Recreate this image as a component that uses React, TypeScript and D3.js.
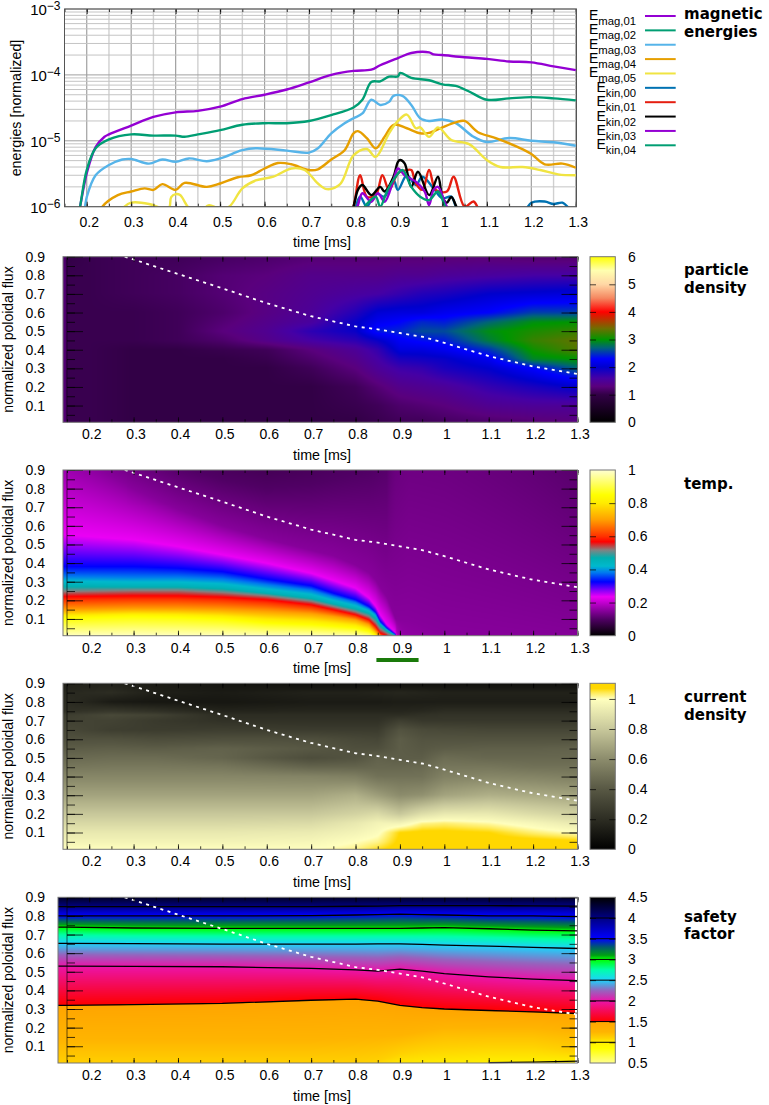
import * as d3 from 'd3';
import * as React from 'react';

const WIDTH = 769;
const HEIGHT = 1105;
const FONT = '"Liberation Sans", Arial, sans-serif';
const BOLD = '"DejaVu Sans", sans-serif';

// ---- energies panel
const mag1T = [0.18, 0.185, 0.2, 0.22, 0.24, 0.25, 0.3, 0.35, 0.4, 0.45, 0.5, 0.55, 0.6, 0.65, 0.7, 0.75, 0.8, 0.84, 0.86, 0.9, 0.93, 0.97, 0.98, 1.0, 1.05, 1.1, 1.15, 1.2, 1.25, 1.3];
const mag1V = [7e-7, 1e-6, 3.2e-6, 8e-6, 1.15e-5, 1.25e-5, 1.7e-5, 2.3e-5, 2.7e-5, 2.85e-5, 3.3e-5, 4.3e-5, 5e-5, 6e-5, 7.7e-5, 1e-4, 1.15e-4, 1.2e-4, 1.4e-4, 1.8e-4, 2.15e-4, 2.2e-4, 2.05e-4, 2e-4, 1.85e-4, 1.75e-4, 1.6e-4, 1.55e-4, 1.35e-4, 1.18e-4];
const mag2T = [0.18, 0.185, 0.2, 0.22, 0.25, 0.3, 0.35, 0.4, 0.42, 0.45, 0.5, 0.55, 0.6, 0.65, 0.7, 0.75, 0.8, 0.82, 0.84, 0.86, 0.88, 0.9, 0.905, 0.93, 0.97, 1.0, 1.03, 1.06, 1.1, 1.15, 1.2, 1.25, 1.3];
const mag2V = [7e-7, 1e-6, 3.6e-6, 7.7e-6, 1.05e-5, 1.25e-5, 1.2e-5, 1.2e-5, 1.15e-5, 1.25e-5, 1.45e-5, 1.75e-5, 1.85e-5, 1.85e-5, 2e-5, 2.45e-5, 3.2e-5, 4.2e-5, 7.8e-5, 8e-5, 9.4e-5, 9.5e-5, 1.07e-4, 9e-5, 8.3e-5, 7.2e-5, 6.8e-5, 5.6e-5, 4.2e-5, 4.4e-5, 4.6e-5, 4.4e-5, 4.1e-5];
const mag3T = [0.19, 0.196, 0.2, 0.22, 0.25, 0.28, 0.3, 0.34, 0.37, 0.4, 0.43, 0.47, 0.5, 0.55, 0.58, 0.65, 0.7, 0.72, 0.75, 0.78, 0.8, 0.82, 0.84, 0.86, 0.88, 0.89, 0.91, 0.93, 0.95, 0.97, 1.0, 1.03, 1.07, 1.1, 1.15, 1.2, 1.25, 1.3];
const mag3V = [7e-7, 1e-6, 1.4e-6, 3e-6, 4.3e-6, 5.2e-6, 5.3e-6, 4.5e-6, 5.2e-6, 4.8e-6, 5.4e-6, 4.9e-6, 5.4e-6, 7.2e-6, 7.7e-6, 7.1e-6, 6.6e-6, 7.7e-6, 1.3e-5, 1.85e-5, 2.2e-5, 2.6e-5, 4.2e-5, 3.5e-5, 3.9e-5, 4.8e-5, 4.8e-5, 3.5e-5, 2.2e-5, 2e-5, 2.1e-5, 1.85e-5, 1.15e-5, 9.6e-6, 1.1e-5, 1e-5, 9.5e-6, 8.4e-6];
const mag4T = [0.225, 0.235, 0.27, 0.3, 0.33, 0.35, 0.37, 0.4, 0.42, 0.47, 0.5, 0.54, 0.57, 0.6, 0.63, 0.66, 0.7, 0.72, 0.75, 0.78, 0.8, 0.81, 0.83, 0.85, 0.87, 0.89, 0.92, 0.95, 0.97, 1.0, 1.03, 1.05, 1.08, 1.12, 1.17, 1.2, 1.23, 1.27, 1.3];
const mag4V = [7e-7, 1e-6, 1.5e-6, 1.7e-6, 1.9e-6, 1.8e-6, 2.2e-6, 1.8e-6, 2.3e-6, 2e-6, 2.25e-6, 2.8e-6, 3e-6, 3.8e-6, 4.6e-6, 4.4e-6, 3.6e-6, 3.7e-6, 5.2e-6, 7.2e-6, 1.3e-5, 1.4e-5, 1.1e-5, 7.7e-6, 1.15e-5, 1.75e-5, 1.55e-5, 1.3e-5, 1.32e-5, 1.6e-5, 1.9e-5, 2e-5, 1.35e-5, 1.1e-5, 8e-6, 6.3e-6, 4.4e-6, 4.5e-6, 3.9e-6];
const mag5T = [0.275, 0.285, 0.3, 0.34, 0.37, 0.385, 0.39, 0.4, 0.41, 0.43, 0.45, 0.475, 0.495, 0.52, 0.55, 0.58, 0.62, 0.66, 0.69, 0.72, 0.74, 0.77, 0.8, 0.83, 0.85, 0.88, 0.9, 0.92, 0.94, 0.95, 0.97, 0.99, 1.02, 1.06, 1.1, 1.13, 1.18, 1.22, 1.26, 1.3];
const mag5V = [8e-7, 1e-6, 1.15e-6, 1.1e-6, 9.5e-7, 9.5e-7, 1.4e-6, 1.55e-6, 1.5e-6, 9.5e-7, 8e-7, 1.05e-6, 9.5e-7, 1e-6, 1.9e-6, 2.5e-6, 2.85e-6, 3.8e-6, 3.6e-6, 2.25e-6, 1.85e-6, 2.2e-6, 6e-6, 7.5e-6, 5.7e-6, 1.3e-5, 2e-5, 2.5e-5, 1.55e-5, 1.6e-5, 1.15e-5, 1.6e-5, 1.03e-5, 8.9e-6, 5.1e-6, 4e-6, 4e-6, 3.6e-6, 3.1e-6, 3e-6];
const kin0T = [0.8, 0.815, 0.83, 0.85, 0.87, 0.89, 0.9, 0.92, 0.94, 0.955, 0.98, 1.0, 1.02, 1.035, 1.1, 1.18, 1.19, 1.2, 1.23, 1.25, 1.27, 1.285, 1.3];
const kin0V = [7e-7, 1.42e-6, 1e-6, 1.6e-6, 1.42e-6, 2.55e-6, 1.8e-6, 3e-6, 2.13e-6, 2.85e-6, 1.9e-6, 1.34e-6, 1.42e-6, 9e-7, 6e-7, 8e-7, 9.5e-7, 1.15e-6, 1.2e-6, 1.1e-6, 1.15e-6, 9.5e-7, 8e-7];
const kin1T = [0.79, 0.8, 0.815, 0.83, 0.85, 0.865, 0.88, 0.9, 0.92, 0.93, 0.94, 0.955, 0.97, 0.985, 1.01, 1.025, 1.05, 1.07, 1.08, 1.09];
const kin1V = [7e-7, 1e-6, 3e-6, 1.42e-6, 1.5e-6, 3e-6, 1.8e-6, 3.2e-6, 3.6e-6, 3.6e-6, 2.26e-6, 1.8e-6, 3.6e-6, 1.8e-6, 1.7e-6, 2.85e-6, 1e-6, 1.2e-6, 9.5e-7, 7e-7];
const kin2T = [0.79, 0.8, 0.81, 0.82, 0.84, 0.86, 0.87, 0.89, 0.9, 0.905, 0.915, 0.93, 0.945, 0.97, 0.99, 1.0, 1.01, 1.02, 1.035, 1.05];
const kin2V = [7e-7, 1e-6, 1.8e-6, 2.13e-6, 1.5e-6, 2e-6, 1.7e-6, 2.85e-6, 4.8e-6, 5.1e-6, 4.55e-6, 2e-6, 3.4e-6, 1.5e-6, 2.85e-6, 1.4e-6, 1.15e-6, 1.4e-6, 9e-7, 7e-7];
const kin3T = [0.8, 0.81, 0.82, 0.84, 0.855, 0.87, 0.89, 0.9, 0.915, 0.94, 0.96, 0.97, 0.98, 0.99, 1.01, 1.03];
const kin3V = [7e-7, 1.06e-6, 1.6e-6, 1.19e-6, 1.6e-6, 1.19e-6, 2.55e-6, 3.8e-6, 3e-6, 2.4e-6, 1.7e-6, 1.06e-6, 1.8e-6, 2e-6, 1e-6, 7e-7];
const kin4T = [0.81, 0.82, 0.835, 0.85, 0.86, 0.875, 0.89, 0.91, 0.93, 0.95, 0.97, 0.99, 1.01, 1.03];
const kin4V = [7e-7, 9e-7, 1.19e-6, 1.42e-6, 1e-6, 1.7e-6, 2.55e-6, 3.6e-6, 2e-6, 1.42e-6, 1.26e-6, 1.7e-6, 9e-7, 7e-7];

const energyTimes = [mag1T, mag2T, mag3T, mag4T, mag5T, kin0T, kin1T, kin2T, kin3T, kin4T];
const energyValues = [mag1V, mag2V, mag3V, mag4V, mag5V, kin0V, kin1V, kin2V, kin3V, kin4V];
const energySubs = ['mag,01', 'mag,02', 'mag,03', 'mag,04', 'mag,05', 'kin,00', 'kin,01', 'kin,02', 'kin,03', 'kin,04'];
const energyColors = ['#9400d3', '#009e73', '#56b4e9', '#e69f00', '#f0e442', '#0072b2', '#e51e10', '#000000', '#9400d3', '#009e73'];

// ---- the dashed curve that repeats on all four maps
const dashTimes = [0.28, 0.3, 0.4, 0.5, 0.6, 0.7, 0.8, 0.85, 0.9, 0.95, 1.0, 1.1, 1.2, 1.3];
const dashFlux = [0.9, 0.885, 0.807, 0.73, 0.65, 0.58, 0.525, 0.51, 0.49, 0.47, 0.437, 0.366, 0.31, 0.27];

// ---- particle density, grid values
const densityTimes = [0.145, 0.153, 0.2, 0.3, 0.4, 0.5, 0.6, 0.7, 0.8, 0.85, 0.9, 0.95, 1, 1.1, 1.2, 1.3];
const densityFlux = [0.01, 0.1, 0.2, 0.3, 0.35, 0.4, 0.45, 0.5, 0.55, 0.6, 0.7, 0.8, 0.9];
const densityValues = [
  [1.25, 1.05, 1.05, 1.0, 1.0, 1.0, 1.0, 1.0, 1.0, 1.05, 1.1, 1.1, 1.15, 1.2, 1.25, 1.3],
  [1.25, 1.05, 1.05, 1.0, 1.0, 1.0, 1.0, 1.0, 1.05, 1.1, 1.2, 1.25, 1.3, 1.45, 1.5, 1.5],
  [1.25, 1.05, 1.05, 1.0, 1.0, 1.0, 1.0, 1.0, 1.1, 1.25, 1.4, 1.45, 1.5, 1.7, 1.85, 2.0],
  [1.25, 1.05, 1.05, 1.0, 1.0, 1.0, 1.0, 1.1, 1.3, 1.5, 1.65, 1.7, 1.85, 2.0, 2.3, 2.7],
  [1.25, 1.05, 1.05, 1.0, 1.0, 1.0, 1.05, 1.2, 1.4, 1.6, 1.85, 1.9, 1.95, 2.2, 2.9, 3.0],
  [1.25, 1.05, 1.05, 1.0, 1.0, 1.05, 1.1, 1.3, 1.5, 1.7, 2.1, 2.1, 2.2, 2.5, 3.05, 3.3],
  [1.25, 1.05, 1.05, 1.05, 1.1, 1.2, 1.4, 1.6, 1.75, 1.95, 2.25, 2.35, 2.4, 2.85, 3.2, 3.35],
  [1.25, 1.05, 1.05, 1.05, 1.1, 1.3, 1.45, 1.75, 1.95, 2.4, 2.45, 2.6, 2.6, 2.95, 3.1, 3.2],
  [1.25, 1.05, 1.05, 1.05, 1.1, 1.25, 1.4, 1.55, 1.95, 2.2, 2.3, 2.45, 2.4, 2.7, 2.95, 3.0],
  [1.25, 1.05, 1.05, 1.05, 1.1, 1.2, 1.35, 1.5, 1.8, 2.05, 2.1, 2.1, 2.2, 2.3, 2.55, 2.55],
  [1.25, 1.05, 1.05, 1.1, 1.15, 1.25, 1.35, 1.45, 1.55, 1.6, 1.7, 1.8, 1.85, 2.0, 2.05, 2.1],
  [1.25, 1.05, 1.05, 1.1, 1.15, 1.25, 1.3, 1.4, 1.4, 1.4, 1.45, 1.45, 1.5, 1.55, 1.6, 1.6],
  [1.2, 1.0, 1.05, 1.1, 1.1, 1.15, 1.2, 1.25, 1.25, 1.25, 1.25, 1.25, 1.25, 1.25, 1.2, 1.2],
];
const densityStops = [0, 1, 1.3, 1.6, 2, 2.3, 2.7, 3, 3.4, 4, 4.5, 5, 5.5, 6];
const densityColors = ['#000000', '#320046', '#5a007d', '#4600a5', '#0000cd', '#0000ff', '#006478', '#009600', '#6e6e00', '#ff0000', '#f58760', '#ffd7a5', '#ffffaf', '#ffff00'];
const densityTicks = [0, 1, 2, 3, 4, 5, 6];

// ---- temperature, flux position of each level per time
const tempTimes = [0.15, 0.3, 0.4, 0.5, 0.6, 0.7, 0.75, 0.8, 0.83, 0.845, 0.855, 0.87, 0.89, 0.92, 1.0, 1.3];
const tempLevels = [1, 0.85, 0.7, 0.567, 0.517, 0.45, 0.38, 0.325, 0.235, 0.15, 0.1, 0.08];
const tempContours = [
  [0, 0, 0, 0, 0, 0, 0, 0, -0.005, -0.02, -0.1, -0.15, -0.25, -2, -2, -2],
  [0.105, 0.114, 0.11, 0.1, 0.079, 0.07, 0.061, 0.052, 0.034, 0.012, -0.05, -0.1, -0.2, -1.9, -1.9, -1.9],
  [0.15, 0.155, 0.154, 0.15, 0.141, 0.129, 0.114, 0.096, 0.07, 0.034, 0.012, -0.05, -0.15, -1.8, -1.8, -1.8],
  [0.221, 0.225, 0.225, 0.218, 0.204, 0.177, 0.15, 0.123, 0.096, 0.061, 0.025, 0.012, -0.1, -1.7, -1.7, -1.7],
  [0.248, 0.254, 0.254, 0.243, 0.225, 0.196, 0.168, 0.139, 0.114, 0.082, 0.048, 0.025, 0.005, -1.6, -1.6, -1.6],
  [0.284, 0.279, 0.279, 0.27, 0.243, 0.216, 0.186, 0.159, 0.136, 0.109, 0.07, 0.039, 0.012, -1.5, -1.5, -1.5],
  [0.33, 0.325, 0.325, 0.315, 0.285, 0.255, 0.22, 0.19, 0.155, 0.128, 0.08, 0.047, 0.014, -1.45, -1.45, -1.45],
  [0.382, 0.382, 0.373, 0.355, 0.314, 0.279, 0.239, 0.204, 0.168, 0.136, 0.088, 0.052, 0.016, -1.4, -1.4, -1.4],
  [0.552, 0.525, 0.489, 0.445, 0.4, 0.346, 0.307, 0.266, 0.213, 0.168, 0.123, 0.07, 0.025, -1, -1, -1],
  [1.0, 0.8, 0.69, 0.6, 0.53, 0.47, 0.44, 0.39, 0.35, 0.31, 0.27, 0.22, 0.1, 0.1, 0.02, -0.05],
  [1.25, 1.05, 0.93, 0.85, 0.8, 0.82, 0.85, 0.88, 0.9, 0.93, 0.96, 1.0, 1.6, 1.9, 1.9, 1.05],
  [1.5, 1.3, 1.15, 1.0, 0.94, 1.0, 1.1, 1.2, 1.3, 1.4, 1.5, 1.6, 2.2, 2.5, 2.5, 2.0],
];
const tempStops = [0, 0.1, 0.15, 0.235, 0.325, 0.38, 0.42, 0.47, 0.517, 0.567, 0.6, 0.7, 0.8, 0.85, 1];
const tempColors = ['#000000', '#500064', '#87009b', '#eb00f5', '#0000ff', '#0078f0', '#00b9cd', '#00afaf', '#828282', '#ff0000', '#ff3200', '#ffa000', '#ffeb00', '#ffff00', '#ffffd2'];
const tempTicks = [0, 0.2, 0.4, 0.6, 0.8, 1];

// ---- current density, grid values
const currentTimes = [0.15, 0.25, 0.35, 0.5, 0.7, 0.8, 0.85, 0.9, 0.95, 1, 1.1, 1.2, 1.3];
const currentFlux = [0.01, 0.05, 0.1, 0.15, 0.2, 0.3, 0.4, 0.45, 0.5, 0.55, 0.6, 0.65, 0.7, 0.73, 0.75, 0.8, 0.85, 0.9];
const currentValues = [
  [1.0, 1.0, 1.0, 1.0, 1.0, 1.02, 1.06, 1.09, 1.09, 1.09, 1.09, 1.09, 1.09],
  [0.96, 0.96, 0.96, 0.96, 0.97, 1.0, 1.02, 1.08, 1.09, 1.09, 1.09, 1.09, 1.08],
  [0.92, 0.92, 0.92, 0.92, 0.93, 0.96, 0.99, 1.07, 1.08, 1.08, 1.07, 1.03, 1.0],
  [0.86, 0.86, 0.86, 0.86, 0.87, 0.92, 0.96, 0.96, 1.02, 1.03, 1.01, 0.97, 0.92],
  [0.8, 0.8, 0.8, 0.8, 0.8, 0.84, 0.87, 0.8, 0.88, 0.92, 0.92, 0.87, 0.83],
  [0.68, 0.68, 0.68, 0.68, 0.68, 0.72, 0.66, 0.6, 0.62, 0.68, 0.72, 0.7, 0.68],
  [0.58, 0.58, 0.58, 0.58, 0.57, 0.55, 0.5, 0.5, 0.5, 0.56, 0.58, 0.57, 0.55],
  [0.52, 0.53, 0.53, 0.52, 0.45, 0.45, 0.46, 0.46, 0.47, 0.52, 0.52, 0.5, 0.5],
  [0.47, 0.48, 0.48, 0.45, 0.35, 0.38, 0.44, 0.42, 0.42, 0.48, 0.46, 0.46, 0.46],
  [0.42, 0.43, 0.42, 0.44, 0.4, 0.36, 0.36, 0.42, 0.4, 0.42, 0.43, 0.43, 0.44],
  [0.37, 0.37, 0.35, 0.36, 0.36, 0.33, 0.32, 0.42, 0.38, 0.38, 0.38, 0.38, 0.38],
  [0.33, 0.28, 0.27, 0.28, 0.27, 0.27, 0.27, 0.38, 0.34, 0.33, 0.32, 0.32, 0.32],
  [0.3, 0.3, 0.26, 0.22, 0.22, 0.22, 0.22, 0.28, 0.25, 0.25, 0.25, 0.25, 0.25],
  [0.28, 0.33, 0.3, 0.2, 0.2, 0.2, 0.2, 0.2, 0.22, 0.23, 0.23, 0.23, 0.23],
  [0.22, 0.25, 0.22, 0.16, 0.17, 0.17, 0.17, 0.17, 0.18, 0.2, 0.2, 0.2, 0.2],
  [0.2, 0.12, 0.1, 0.1, 0.12, 0.12, 0.12, 0.13, 0.13, 0.13, 0.13, 0.13, 0.13],
  [0.18, 0.2, 0.14, 0.12, 0.15, 0.15, 0.16, 0.17, 0.16, 0.15, 0.15, 0.15, 0.15],
  [0.15, 0.15, 0.12, 0.09, 0.07, 0.07, 0.07, 0.07, 0.07, 0.07, 0.07, 0.07, 0.07],
];
const currentStops = [0, 0.2, 0.4, 0.6, 0.8, 1, 1.04, 1.07, 1.104];
const currentColors = ['#000000', '#2d2d23', '#585844', '#8c8c6c', '#c8c89b', '#ffffbe', '#ffeb5a', '#ffd700', '#ffd700'];
const currentTicks = [0, 0.2, 0.4, 0.6, 0.8, 1];

// ---- safety factor, flux position of each q level per time
const qTimes = [0.15, 0.3, 0.5, 0.7, 0.8, 0.85, 0.9, 0.95, 1, 1.1, 1.2, 1.3];
const qLevels = [0.5, 1, 1.1, 1.25, 1.5, 2, 2.5, 3, 3.5, 4, 4.5];
const qContours = [
  [-0.5, -0.5, -0.5, -0.5, -0.5, -0.5, -0.5, -0.5, -0.5, -0.5, -0.5, -0.5],
  [-0.05, -0.05, -0.05, -0.05, -0.05, -0.03, -0.01, -0.005, 0.0, 0.012, 0.015, 0.02],
  [0.0, 0.0, 0.0, 0.0, 0.005, 0.02, 0.06, 0.08, 0.09, 0.1, 0.1, 0.07],
  [0.14, 0.14, 0.14, 0.14, 0.15, 0.155, 0.16, 0.18, 0.2, 0.2, 0.2, 0.18],
  [0.32, 0.324, 0.33, 0.347, 0.353, 0.342, 0.32, 0.307, 0.3, 0.292, 0.285, 0.276],
  [0.53, 0.529, 0.527, 0.518, 0.51, 0.503, 0.514, 0.503, 0.49, 0.473, 0.46, 0.452],
  [0.653, 0.651, 0.649, 0.649, 0.649, 0.65, 0.65, 0.647, 0.643, 0.638, 0.631, 0.625],
  [0.74, 0.735, 0.733, 0.733, 0.733, 0.733, 0.733, 0.735, 0.737, 0.731, 0.724, 0.72],
  [0.8, 0.8, 0.8, 0.802, 0.805, 0.807, 0.81, 0.807, 0.805, 0.8, 0.8, 0.796],
  [0.85, 0.85, 0.85, 0.85, 0.852, 0.853, 0.855, 0.855, 0.855, 0.855, 0.854, 0.853],
  [0.92, 0.92, 0.92, 0.92, 0.92, 0.92, 0.92, 0.92, 0.92, 0.92, 0.92, 0.92],
];
const qLineLevels = [1, 1.5, 2, 2.5, 3, 3.5, 4];
const qStops = [0.5, 0.85, 1, 1.1, 1.25, 1.5, 1.501, 2, 2.25, 2.5, 2.75, 3, 3.1, 3.3, 3.5, 4, 4.5];
const qColors = ['#ffff8c', '#ffff00', '#fff000', '#ffd200', '#ffb400', '#ffa500', '#ff0000', '#eb14aa', '#9664be', '#1ed2fa', '#00ffaa', '#00ff00', '#00a014', '#005a6e', '#0000ff', '#000082', '#000000'];
const qTicks = [0.5, 1, 1.5, 2, 2.5, 3, 3.5, 4, 4.5];

const timeTicks = d3.range(2, 14).map((d) => d / 10);
const timeMinor = d3.range(3, 27).map((d) => d / 20);
const fluxTicks = d3.range(1, 10).map((d) => d / 10);
const fluxMinor = d3.range(1, 19).map((d) => d / 20);
const greenBarTimes = [0.847, 0.942];

const fmt = (d) => String(+(+d).toFixed(1));

// fractional index of a value inside a list of grid positions
const indexScale = (list) =>
  d3.scaleLinear().domain(list).range(d3.range(list.length)).clamp(true);

const gridField = (times, flux, values) => {
  const col = indexScale(times);
  const row = indexScale(flux);
  return (t) => {
    const c = col(t);
    const c0 = Math.floor(c);
    const c1 = Math.min(c0 + 1, times.length - 1);
    return (p) => {
      const r = row(p);
      const r0 = Math.floor(r);
      const r1 = Math.min(r0 + 1, flux.length - 1);
      const a = values[r0][c0] + (values[r0][c1] - values[r0][c0]) * (c - c0);
      const b = values[r1][c0] + (values[r1][c1] - values[r1][c0]) * (c - c0);
      return a + (b - a) * (r - r0);
    };
  };
};

const contourField = (times, levels, contours) => {
  const lines = contours.map((c) => d3.scaleLinear().domain(times).range(c).clamp(true));
  return (t) => d3.scaleLinear().domain(lines.map((l) => l(t))).range(levels).clamp(true);
};

const addTimeAxis = (g, x, bottom, top, padding) => {
  const style = (sel) => {
    sel.select('.domain').remove();
    sel.selectAll('line').attr('stroke', '#000').attr('stroke-opacity', 0.75);
  };
  g.append('g').attr('transform', `translate(0,${bottom})`)
    .call(d3.axisBottom(x).tickValues(timeMinor).tickSize(-3).tickFormat(() => '')).call(style);
  g.append('g').attr('transform', `translate(0,${top})`)
    .call(d3.axisTop(x).tickValues(timeMinor).tickSize(-3).tickFormat(() => '')).call(style);
  g.append('g').attr('transform', `translate(0,${top})`)
    .call(d3.axisTop(x).tickValues(timeTicks).tickSize(-5).tickFormat(() => '')).call(style);
  const labels = g.append('g').attr('transform', `translate(0,${bottom})`)
    .call(d3.axisBottom(x).tickValues(timeTicks).tickSize(-5).tickPadding(padding).tickFormat(fmt));
  labels.call(style);
  labels.selectAll('text').attr('font-family', FONT).attr('font-size', 14).attr('fill', '#000').attr('dx', 2);
};

const addLabel = (svg, text, x, y, opts = {}) => {
  const t = svg.append('text').attr('font-family', FONT).attr('font-size', opts.size || 14.3).attr('fill', '#000').text(text);
  if (opts.rotate) {
    t.attr('transform', `translate(${x},${y}) rotate(-90)`).attr('text-anchor', 'middle');
  } else {
    t.attr('x', x).attr('y', y).attr('text-anchor', 'middle');
  }
};

const addBold = (svg, lines, baselines) => {
  lines.forEach((line, i) => {
    svg.append('text').attr('x', 684).attr('y', baselines[i]).attr('font-family', BOLD).attr('font-weight', 'bold')
      .attr('font-size', 15).attr('fill', '#000').text(line);
  });
};

const drawEnergies = (svg) => {
  const left = 64.5;
  const right = 576.5;
  const top = 9;
  const bottom = 206.7;
  const x = d3.scaleLinear().domain([0.15, 1.3]).range([left, 575.8]);
  const y = d3.scaleLog().domain([1e-6, 1e-3]).range([bottom, top]);
  const g = svg.append('g');

  g.selectAll('.grid-x').data(timeMinor.filter((d) => x(d) > left + 1)).join('line')
    .attr('x1', (d) => x(d)).attr('x2', (d) => x(d)).attr('y1', top).attr('y2', bottom)
    .attr('stroke', (d) => (timeTicks.some((m) => Math.abs(m - d) < 1e-6) ? '#a0a0a0' : '#d0d0d0'))
    .attr('stroke-width', (d) => (timeTicks.some((m) => Math.abs(m - d) < 1e-6) ? 1.2 : 1.4));
  g.append('g').selectAll('line').data(y.ticks()).join('line')
    .attr('x1', left).attr('x2', right).attr('y1', (d) => y(d)).attr('y2', (d) => y(d))
    .attr('stroke', (d) => (Math.abs(Math.log10(d) % 1) < 1e-6 ? '#a0a0a0' : '#c4c4c4'))
    .attr('stroke-width', 1);

  const clip = svg.append('clipPath').attr('id', 'energy-clip');
  clip.append('rect').attr('x', left).attr('y', top).attr('width', right - left).attr('height', bottom - top);

  const line = d3.line().x((d) => x(d[0])).y((d) => y(d[1])).curve(d3.curveCatmullRom.alpha(0.5));
  const curves = g.append('g').attr('clip-path', 'url(#energy-clip)');
  // kinetic ones are underneath in the picture except black
  [5, 6, 7, 8, 9, 0, 1, 2, 3, 4].forEach((i) => {
    const pts = energyTimes[i].map((t, k) => [t, energyValues[i][k]]);
    curves.append('path').attr('d', line(pts)).attr('fill', 'none').attr('stroke', energyColors[i])
      .attr('stroke-width', 2.4).attr('stroke-linejoin', 'round');
  });

  addTimeAxis(g, x, bottom, top, 10);
  g.append('rect').attr('x', left).attr('y', top).attr('width', right - left).attr('height', bottom - top)
    .attr('fill', 'none').attr('stroke', '#555').attr('stroke-width', 1);

  const yAxis = g.append('g').attr('transform', `translate(${left},0)`)
    .call(d3.axisLeft(y).tickValues([1e-6, 1e-5, 1e-4, 1e-3]).tickSize(0).tickPadding(4).tickFormat(() => ''));
  yAxis.select('.domain').remove();
  yAxis.selectAll('.tick text').each(function (d) {
    const text = d3.select(this).attr('font-family', FONT).attr('fill', '#000').attr('font-size', 15).attr('dy', '5.5').attr('x', -4);
    text.append('tspan').text('10');
    text.append('tspan').attr('dy', -5).attr('font-size', 12).text(`−${Math.round(-Math.log10(d))}`);
  });

  addLabel(svg, 'time [ms]', 322, 247);
  addLabel(svg, 'energies [normalized]', 21, 108, { rotate: true });

  const legendY = d3.scaleLinear().domain([0, 9]).range([16, 145.3]);
  energySubs.forEach((sub, i) => {
    const text = svg.append('text').attr('x', 636).attr('y', legendY(i) + 4).attr('text-anchor', 'end')
      .attr('font-family', FONT).attr('font-size', 14).attr('fill', '#000');
    text.append('tspan').text('E');
    text.append('tspan').attr('dy', 5).attr('font-size', 11.3).text(sub);
    svg.append('line').attr('x1', 645).attr('x2', 675.7).attr('y1', legendY(i)).attr('y2', legendY(i))
      .attr('stroke', energyColors[i]).attr('stroke-width', 2);
  });
  addBold(svg, ['magnetic', 'energies'], [19.3, 36.7]);
};

const drawMap = (svg, cfg) => {
  const { top, bottom, field, stops, colors, ticks, barDomain, id, imageLeft, imageRight } = cfg;
  const left = 67;
  const right = 577.5;
  const x = d3.scaleLinear().domain([0.15, 1.3]).range([left, right]);
  const y = d3.scaleLinear().domain([0.01, 0.9]).range([bottom, top]);
  const color = d3.scaleLinear().domain(stops).range(colors).clamp(true);
  const g = svg.append('g');

  // pixel map, every pixel goes back through the axis scales
  const w = Math.round(imageRight - imageLeft);
  const h = Math.round(bottom - top);
  const canvas = document.createElement('canvas');
  canvas.width = w;
  canvas.height = h;
  const ctx = canvas.getContext('2d');
  const img = ctx.createImageData(w, h);
  for (let i = 0; i < w; i++) {
    const profile = field(x.invert(imageLeft + (i + 0.5) * ((imageRight - imageLeft) / w)));
    for (let j = 0; j < h; j++) {
      const c = d3.rgb(color(profile(y.invert(top + (j + 0.5) * ((bottom - top) / h)))));
      const k = (j * w + i) * 4;
      img.data[k] = c.r;
      img.data[k + 1] = c.g;
      img.data[k + 2] = c.b;
      img.data[k + 3] = 255;
    }
  }
  ctx.putImageData(img, 0, 0);
  g.append('image').attr('href', canvas.toDataURL()).attr('x', imageLeft).attr('y', top)
    .attr('width', imageRight - imageLeft).attr('height', bottom - top).attr('preserveAspectRatio', 'none');

  if (cfg.lines) {
    const contour = d3.line().x((d) => x(d[0])).y((d) => y(d[1]));
    cfg.lines.forEach((l) => {
      const pts = [[x.invert(imageLeft), l[0]], ...qTimes.map((t, k) => [t, l[k]])].filter((d) => d[1] >= 0.005);
      if (pts.length > 1) {
        g.append('path').attr('d', contour(pts)).attr('fill', 'none').attr('stroke', '#000').attr('stroke-width', 1.3);
      }
    });
  }

  const dash = d3.line().x((d) => x(d[0])).y((d) => y(d[1]));
  g.append('path').attr('d', dash(dashTimes.map((t, k) => [t, dashFlux[k]]))).attr('fill', 'none')
    .attr('stroke', '#fff').attr('stroke-width', 1.8).attr('stroke-dasharray', '3 4.5');

  // flux ticks point inwards from both sides, long and short
  const tickStyle = (sel) => {
    sel.select('.domain').remove();
    sel.selectAll('line').attr('stroke', '#000').attr('stroke-opacity', 0.75);
  };
  g.append('g').attr('transform', `translate(${left},0)`)
    .call(d3.axisLeft(y).tickValues(fluxMinor).tickSize(-8).tickFormat(() => '')).call(tickStyle);
  g.append('g').attr('transform', `translate(${right},0)`)
    .call(d3.axisRight(y).tickValues(fluxMinor).tickSize(-8).tickFormat(() => '')).call(tickStyle);
  g.append('g').attr('transform', `translate(${right},0)`)
    .call(d3.axisRight(y).tickValues(fluxTicks).tickSize(-16).tickFormat(() => '')).call(tickStyle);
  const yAxis = g.append('g').attr('transform', `translate(${left},0)`)
    .call(d3.axisLeft(y).tickValues(fluxTicks).tickSize(-16).tickPadding(22).tickFormat(fmt));
  yAxis.call(tickStyle);
  yAxis.selectAll('text').attr('font-family', FONT).attr('font-size', 14).attr('fill', '#000');

  addTimeAxis(g, x, bottom, top, 7);

  g.append('line').attr('x1', left).attr('x2', left).attr('y1', top).attr('y2', bottom).attr('stroke', '#000').attr('stroke-opacity', 0.6);
  g.append('rect').attr('x', imageLeft).attr('y', top).attr('width', right - imageLeft).attr('height', bottom - top)
    .attr('fill', 'none').attr('stroke', '#777').attr('stroke-width', 1);

  // colour bar
  const barLeft = 590;
  const barRight = 615.3;
  const bar = d3.scaleLinear().domain(barDomain).range([bottom, top]);
  const grad = svg.append('linearGradient').attr('id', id).attr('x1', 0).attr('x2', 0).attr('y1', 1).attr('y2', 0);
  stops.forEach((s, i) => {
    grad.append('stop').attr('offset', (s - barDomain[0]) / (barDomain[1] - barDomain[0])).attr('stop-color', colors[i]);
  });
  g.append('rect').attr('x', barLeft).attr('y', top).attr('width', barRight - barLeft).attr('height', bottom - top)
    .attr('fill', `url(#${id})`).attr('stroke', '#777').attr('stroke-width', 1);
  const barAxis = g.append('g').attr('transform', `translate(${barRight},0)`)
    .call(d3.axisRight(bar).tickValues(ticks).tickSize(-6).tickPadding(12.7).tickFormat(fmt));
  barAxis.select('.domain').remove();
  barAxis.selectAll('text').attr('font-family', FONT).attr('font-size', 14).attr('fill', '#000');
  barAxis.selectAll('line').attr('stroke', '#000').attr('stroke-opacity', 0.7)
    .filter((d) => d === barDomain[0] || d === barDomain[1]).remove();
  const barAxisL = g.append('g').attr('transform', `translate(${barLeft},0)`)
    .call(d3.axisLeft(bar).tickValues(ticks.filter((d) => d !== barDomain[0] && d !== barDomain[1])).tickSize(-6).tickFormat(() => ''));
  barAxisL.select('.domain').remove();
  barAxisL.selectAll('line').attr('stroke', '#000').attr('stroke-opacity', 0.7);
  if (cfg.barLines) {
    g.append('g').selectAll('line').data(cfg.barLines).join('line')
      .attr('x1', barLeft).attr('x2', barRight).attr('y1', (d) => bar(d)).attr('y2', (d) => bar(d))
      .attr('stroke', '#000').attr('stroke-width', 1);
  }

  addLabel(svg, 'time [ms]', 322, bottom + 37.5);
  addLabel(svg, 'normalized poloidal flux', 13, (top + bottom) / 2, { rotate: true, size: 14 });
  addBold(svg, cfg.title, cfg.titleY);
  return x;
};

const App = () => {
  const ref = React.useRef<SVGSVGElement | null>(null);

  React.useEffect(() => {
    if (!ref.current) {
      return;
    }
    const svg = d3.select(ref.current);
    svg.selectAll('*').remove();

    drawEnergies(svg);
    drawMap(svg, {
      id: 'density-bar', top: 256.7, bottom: 422.3, imageLeft: 63, imageRight: 577.5,
      field: gridField(densityTimes, densityFlux, densityValues),
      stops: densityStops, colors: densityColors, ticks: densityTicks, barDomain: [0, 6],
      title: ['particle', 'density'], titleY: [275, 293],
    });
    const tempX = drawMap(svg, {
      id: 'temp-bar', top: 470, bottom: 635.7, imageLeft: 63, imageRight: 577.5,
      field: contourField(tempTimes, tempLevels, tempContours),
      stops: tempStops, colors: tempColors, ticks: tempTicks, barDomain: [0, 1],
      title: ['temp.'], titleY: [489],
    });
    svg.append('line').attr('x1', tempX(greenBarTimes[0])).attr('x2', tempX(greenBarTimes[1])).attr('y1', 660).attr('y2', 660)
      .attr('stroke', '#1a7a0a').attr('stroke-width', 4);
    drawMap(svg, {
      id: 'current-bar', top: 683.3, bottom: 849.3, imageLeft: 63, imageRight: 577.5,
      field: gridField(currentTimes, currentFlux, currentValues),
      stops: currentStops, colors: currentColors, ticks: currentTicks, barDomain: [0, 1.104],
      title: ['current', 'density'], titleY: [701.7, 720],
    });
    drawMap(svg, {
      id: 'q-bar', top: 897.3, bottom: 1063, imageLeft: 58, imageRight: 575,
      field: contourField(qTimes, qLevels, qContours),
      stops: qStops, colors: qColors, ticks: qTicks, barDomain: [0.5, 4.5],
      lines: qLineLevels.map((l) => qContours[qLevels.indexOf(l)]),
      barLines: qLineLevels,
      title: ['safety', 'factor'], titleY: [921.7, 939],
    });
  }, []);

  return <svg ref={ref} width={WIDTH} height={HEIGHT} style={{ position: 'absolute', left: 0, top: 0, background: '#fff' }} />;
};

export default App;
